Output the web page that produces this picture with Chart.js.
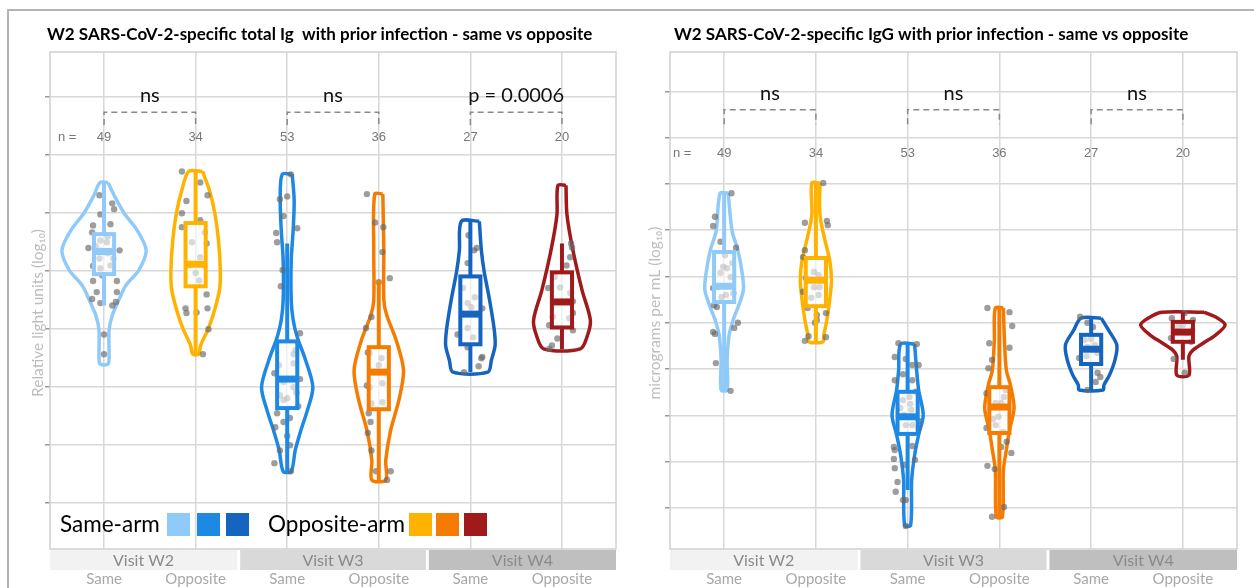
<!DOCTYPE html>
<html>
<head>
<meta charset="utf-8">
<script src="https://cdn.jsdelivr.net/npm/chart.js@4.4.1/dist/chart.umd.min.js"></script>
<style>
  html, body { margin: 0; padding: 0; background: #fff; }
  #wrap { position: relative; width: 1254px; height: 588px; overflow: hidden; }
  #frame { position: absolute; left: 7px; top: 9px; width: 1260px; height: 600px; border-left: 2px solid #b4b4b4; border-top: 2px solid #b4b4b4; }
  .panel { position: absolute; top: 0; width: 627px; height: 588px; }
</style>
</head>
<body>
<div id="wrap">
  <div id="frame"></div>
  <div class="panel" style="left:0"><canvas id="igChart" width="627" height="588"></canvas></div>
  <div class="panel" style="left:627px"><canvas id="iggChart" width="627" height="588"></canvas></div>
</div>
<script>
const categories = ['Same', 'Opposite', 'Same', 'Opposite', 'Same', 'Opposite'];
const visits = ['Visit W2', 'Visit W3', 'Visit W4'];
const groupCounts = [49, 34, 53, 36, 27, 20];
const seriesColors = ['#90CAF9', '#FFB300', '#1E88E5', '#F57C00', '#1565C0', '#A01A1C'];
const sameArmColors = ['#90CAF9', '#1E88E5', '#1565C0'];
const oppositeArmColors = ['#FFB300', '#F57C00', '#A01A1C'];

// total Ig, log10 units: [min, q1, median, q3, max]
const igBoxes = [
  [3.41, 3.95, 4.34, 4.64, 5.53],
  [2.57, 3.74, 4.12, 4.83, 5.72],
  [0.55, 1.64, 2.14, 2.79, 4.48],
  [0.40, 1.62, 2.26, 2.69, 3.84],
  [2.26, 2.74, 3.26, 3.91, 4.86],
  [2.66, 3.03, 3.47, 3.98, 4.48]
];
// violin profile: [value, half density width]
const igViolins = [
  [[5.53,0.044],[5.31,0.11],[5.00,0.22],[4.71,0.36],[4.36,0.46],[4.02,0.38],[3.76,0.24],[3.50,0.16],[3.24,0.09],[2.98,0.055],[2.55,0.055],[2.40,0.044]],
  [[5.72,0.076],[5.40,0.15],[5.00,0.21],[4.53,0.25],[4.00,0.27],[3.67,0.26],[3.24,0.19],[2.98,0.13],[2.72,0.055],[2.57,0.033]],
  [[5.67,0.055],[5.22,0.076],[4.71,0.065],[4.19,0.044],[3.50,0.044],[3.16,0.065],[2.86,0.11],[2.47,0.20],[2.00,0.28],[1.60,0.22],[1.26,0.15],[0.91,0.087],[0.55,0.044]],
  [[5.33,0.044],[4.36,0.055],[3.50,0.055],[3.24,0.087],[2.81,0.19],[2.29,0.27],[1.78,0.22],[1.26,0.13],[0.74,0.076],[0.40,0.076]],
  [[4.86,0.098],[4.36,0.12],[4.00,0.15],[3.50,0.21],[3.00,0.26],[2.72,0.27],[2.47,0.23],[2.26,0.19]],
  [[5.48,0.044],[4.97,0.055],[4.36,0.12],[3.67,0.22],[3.16,0.31],[2.90,0.28],[2.66,0.20]]
];
// individual samples: [jitter, value]
const igPoints = [
  [[-0.05,5.31],[0.09,5.17],[0.11,5.07],[-0.04,4.98],[0.07,4.81],[-0.12,4.79],[-0.13,4.67],[-0.04,4.53],[0.03,4.50],[-0.04,4.36],[0.04,4.31],[-0.05,4.22],[-0.12,4.09],[0.07,4.10],[-0.04,4.05],[-0.12,3.83],[0.14,3.83],[-0.08,3.64],[0.14,3.64],[-0.13,3.52],[-0.04,3.45],[0.09,3.41],[0.13,3.47],[0,2.91],[0,2.57],[0.04,4.60],[-0.09,4.43],[0.10,4.22],[-0.02,3.93],[-0.17,4.40],[0.17,4.36]],
  [[-0.15,5.72],[0.05,5.53],[0.13,5.31],[-0.10,5.21],[-0.15,5.00],[-0.15,4.76],[0.05,4.88],[0.10,4.67],[-0.04,4.50],[0.12,4.48],[0.05,4.24],[-0.07,4.10],[0.09,4.10],[0,3.97],[0.04,3.84],[0.12,3.60],[-0.11,3.36],[0.01,3.29],[0.13,3.36],[-0.10,3.28],[0.14,3.00],[0.08,2.57]],
  [[0.04,5.67],[-0.08,5.24],[0,5.29],[-0.04,4.95],[0.11,4.74],[-0.12,4.66],[-0.11,4.50],[-0.05,4.02],[-0.07,3.74],[0.14,2.93],[0.07,2.57],[0.07,2.41],[-0.14,2.24],[-0.04,2.09],[0.07,2.00],[0.14,2.14],[-0.08,1.86],[0.12,1.67],[-0.11,1.55],[0.03,1.47],[-0.04,1.40],[-0.13,1.31],[0,1.16],[0.03,1.00],[-0.08,0.91],[-0.14,0.69],[0.04,0.55],[0,1.81],[-0.04,1.78],[0.09,2.64],[-0.09,2.38],[0.10,1.91]],
  [[-0.13,5.33],[-0.04,4.84],[0.05,4.76],[0.04,4.33],[0.12,3.88],[0,3.81],[-0.08,3.21],[-0.14,3.02],[-0.12,2.60],[-0.10,2.59],[0,2.38],[0.07,2.26],[-0.13,2.03],[-0.10,2.00],[0.04,2.07],[-0.08,1.72],[-0.11,1.55],[-0.09,1.40],[-0.12,1.21],[-0.08,0.91],[-0.03,0.55],[0.13,0.55],[0.09,0.40],[0.04,1.74],[0.03,2.50]],
  [[-0.02,4.62],[0.07,4.40],[0.04,4.36],[-0.03,4.14],[-0.08,3.71],[0.05,3.55],[-0.03,3.45],[0.01,3.38],[0.13,3.36],[-0.14,2.91],[-0.03,3.02],[0.03,2.86],[-0.03,2.69],[0.13,2.52],[0.12,2.50],[0.09,2.36],[-0.07,2.26]],
  [[0.10,4.48],[0.11,4.41],[0.09,4.24],[0.05,4.10],[-0.08,3.90],[-0.02,3.72],[-0.15,3.71],[0.09,3.62],[0.12,3.48],[0.12,3.28],[-0.10,3.21],[0.08,3.19],[-0.14,3.07],[0.12,2.98],[-0.05,2.84],[-0.11,2.72],[-0.14,2.66]]
];
const igTests = ['ns', 'ns', 'p = 0.0006'];
const igTicks = [0, 1, 2, 3, 4, 5, 6, 7];

// IgG, log10 units
const iggBoxes = [
  [2.55, 4.45, 4.79, 5.53, 6.80],
  [3.59, 4.36, 4.92, 5.40, 7.02],
  [0.39, 1.60, 1.97, 2.51, 3.54],
  [-0.19, 1.62, 2.18, 2.61, 4.32],
  [2.55, 3.11, 3.43, 3.74, 4.10],
  [3.20, 3.59, 3.80, 4.02, 4.23]
];
const iggViolins = [
  [[6.80,0.044],[5.98,0.087],[5.57,0.15],[5.03,0.20],[4.71,0.21],[4.38,0.16],[4.06,0.098],[3.74,0.055],[3.20,0.033],[2.55,0.033]],
  [[7.02,0.044],[6.33,0.044],[5.79,0.098],[5.36,0.15],[4.92,0.17],[4.49,0.15],[4.06,0.12],[3.74,0.087],[3.59,0.076]],
  [[3.54,0.076],[2.98,0.098],[2.55,0.12],[2.01,0.17],[1.58,0.12],[1.14,0.076],[0.60,0.044],[-0.37,0.033]],
  [[4.32,0.044],[3.63,0.055],[2.98,0.076],[2.66,0.12],[2.16,0.16],[1.68,0.11],[1.25,0.076],[0.82,0.044],[-0.19,0.033]],
  [[4.10,0.11],[3.84,0.19],[3.52,0.28],[3.20,0.26],[2.87,0.20],[2.66,0.14],[2.55,0.13]],
  [[4.23,0.23],[4.10,0.38],[3.95,0.46],[3.74,0.36],[3.56,0.22],[3.41,0.11],[3.28,0.066],[2.87,0.066]]
];
const iggPoints = [
  [[0.08,6.80],[-0.10,6.29],[-0.12,6.09],[-0.04,5.75],[0.13,5.62],[0.01,5.46],[0.09,5.29],[-0.01,5.21],[0.03,5.18],[-0.04,5.08],[0.07,4.99],[-0.07,4.77],[-0.12,4.75],[0.02,4.60],[-0.03,4.56],[0.10,4.64],[-0.11,4.38],[-0.08,4.34],[0.15,4.00],[0.11,3.89],[-0.12,3.80],[-0.10,3.76],[-0.09,3.13],[0.07,2.53]],
  [[0.08,7.02],[0.12,6.20],[0.13,6.11],[-0.12,6.16],[-0.12,5.57],[-0.14,5.42],[-0.02,5.10],[0.03,5.03],[-0.11,4.97],[-0.02,4.77],[0.04,4.77],[-0.14,4.67],[0.03,4.60],[-0.05,4.54],[-0.09,4.32],[0.01,4.17],[0.11,4.21],[-0.01,4.00],[0.01,4.06],[-0.08,3.71],[0.11,3.69],[-0.12,3.61]],
  [[-0.10,3.56],[0.10,3.54],[-0.14,3.26],[-0.02,3.22],[0.05,3.09],[0.12,3.09],[-0.05,2.89],[-0.14,2.76],[0.05,2.76],[0.02,2.40],[-0.05,2.33],[0.04,2.12],[-0.08,2.16],[0.12,1.88],[-0.02,1.79],[0.05,1.79],[0.12,1.73],[-0.15,1.32],[-0.14,1.25],[0.05,1.34],[-0.15,1.06],[0.08,1.04],[-0.14,0.86],[-0.03,0.93],[-0.11,0.56],[-0.13,0.35],[-0.05,0.17],[-0.02,0.17],[-0.02,-0.39],[0.03,2.25],[-0.04,2.01],[0.09,2.51]],
  [[-0.13,4.32],[0.11,4.23],[0.14,3.93],[-0.11,3.56],[0.11,3.46],[-0.08,3.20],[-0.12,3.02],[0.07,2.55],[-0.14,2.48],[0.05,2.40],[-0.04,2.27],[0.02,2.27],[-0.07,1.92],[-0.01,1.97],[-0.04,1.79],[-0.14,1.73],[0.04,1.64],[0.02,1.32],[0.08,1.43],[0.13,1.19],[-0.13,0.91],[-0.05,0.84],[0.05,0.02],[-0.08,-0.19]],
  [[-0.12,4.13],[-0.04,4.00],[0.02,3.91],[-0.07,3.63],[0,3.65],[-0.04,3.48],[0.04,3.52],[0.07,3.35],[-0.05,3.28],[-0.13,3.24],[0.07,2.92],[0.10,2.83],[0.05,2.72],[-0.04,2.55]],
  [[-0.12,4.10],[0.02,4.21],[0.11,4.06],[0,3.95],[-0.05,3.91],[0.10,3.84],[0.04,3.78],[-0.13,3.67],[0.09,3.59],[-0.10,3.22],[0.02,2.92]]
];
const iggTests = ['ns', 'ns', 'ns'];
const iggTicks = [0, 1, 2, 3, 4, 5, 6, 7, 8, 9];

const BOX_HALF = 0.11;
const GRID = '#d8d8d8';
Chart.defaults.font.family = 'Lato, sans-serif';

function decor(cfg) {
    return {
        id: 'decor',
        beforeDatasetsDraw(chart) {
            const { ctx, chartArea: ca } = chart;
            ctx.save();
            ctx.strokeStyle = '#cfcfcf';
            ctx.lineWidth = 1.5;
            ctx.strokeRect(ca.left, ca.top, ca.right - ca.left, ca.bottom - ca.top);
            ctx.restore();
        },
        afterDatasetsDraw(chart) {
            const { ctx, scales: { x, y } } = chart;
            ctx.save();
            cfg.boxes.forEach(([lo, q1, med, q3, hi], i) => {
                const cx = x.getPixelForValue(i + 1);
                const hw = x.getPixelForValue(i + 1 + BOX_HALF) - cx;
                ctx.strokeStyle = seriesColors[i];
                ctx.lineWidth = 4;
                ctx.beginPath();
                ctx.moveTo(cx, y.getPixelForValue(hi)); ctx.lineTo(cx, y.getPixelForValue(q3));
                ctx.moveTo(cx, y.getPixelForValue(q1)); ctx.lineTo(cx, y.getPixelForValue(lo));
                ctx.stroke();
                const top = y.getPixelForValue(q3), bot = y.getPixelForValue(q1);
                ctx.fillStyle = 'rgba(255,255,255,0.6)';
                ctx.fillRect(cx - hw, top, hw * 2, bot - top);
                ctx.strokeRect(cx - hw, top, hw * 2, bot - top);
                ctx.lineWidth = 7;
                ctx.beginPath();
                const my = y.getPixelForValue(med);
                ctx.moveTo(cx - hw, my); ctx.lineTo(cx + hw, my);
                ctx.stroke();
            });
            ctx.restore();
        },
        afterDraw(chart) {
            const { ctx, chartArea: ca, scales: { x, y } } = chart;
            ctx.save();
            ctx.textBaseline = 'middle';

            ctx.fillStyle = '#000';
            ctx.textAlign = 'left';
            ctx.font = 'bold 17px Lato';
            ctx.fillText(cfg.title, 47, 35);

            // rotated value-axis title
            ctx.save();
            ctx.translate(cfg.yTitleX, cfg.yTitleY);
            ctx.rotate(-Math.PI / 2);
            ctx.textAlign = 'center';
            ctx.fillStyle = '#bdbdbd';
            ctx.font = '15.5px Lato';
            ctx.fillText(cfg.yTitle, 0, 0);
            ctx.restore();

            // n row
            const ny = y.getPixelForValue(cfg.nRowY);
            ctx.font = '13px "Liberation Sans"';
            ctx.fillStyle = '#777';
            ctx.fillText('n =', ca.left + cfg.nLeft, ny);
            ctx.textAlign = 'center';
            groupCounts.forEach((n, i) => ctx.fillText(String(n), x.getPixelForValue(i + 1), ny));

            // comparison brackets
            const by = y.getPixelForValue(cfg.bracketY);
            const bt = y.getPixelForValue(cfg.bracketTickY);
            const ty = y.getPixelForValue(cfg.testY);
            cfg.tests.forEach((t, k) => {
                const x1 = x.getPixelForValue(2 * k + 1), x2 = x.getPixelForValue(2 * k + 2);
                ctx.strokeStyle = '#8a8a8a';
                ctx.lineWidth = 1.5;
                ctx.setLineDash([6, 4]);
                ctx.beginPath();
                ctx.moveTo(x1, bt); ctx.lineTo(x1, by); ctx.lineTo(x2, by); ctx.lineTo(x2, bt);
                ctx.stroke();
                ctx.setLineDash([]);
                ctx.fillStyle = '#111';
                ctx.font = '20px Lato';
                ctx.fillText(t, (x1 + x2) / 2, ty);
            });

            // visit bands and arm labels
            const third = (ca.right - ca.left) / 3;
            const bandFill = ['#f2f2f2', '#d9d9d9', '#bfbfbf'];
            visits.forEach((v, k) => {
                const l = ca.left + third * k + (k ? 1.5 : 0);
                const r = ca.left + third * (k + 1) - (k < 2 ? 1.5 : 0);
                ctx.fillStyle = bandFill[k];
                ctx.fillRect(l, ca.bottom + 1, r - l, 20);
                ctx.fillStyle = '#8a8a8a';
                ctx.font = '16px Lato';
                ctx.fillText(v, (l + r) / 2, ca.bottom + 11.5);
            });
            ctx.fillStyle = '#a8a8a8';
            ctx.font = '15px Lato';
            categories.forEach((c, i) => ctx.fillText(c, x.getPixelForValue(i + 1), ca.bottom + 30));

            if (cfg.legend) {
                const ly = ca.bottom - 24;
                ctx.textAlign = 'left';
                ctx.fillStyle = '#000';
                ctx.font = '22.5px Lato';
                ctx.fillText('Same-arm', ca.left + 10, ly);
                ctx.fillText('Opposite-arm', ca.left + 218, ly);
                [117, 147, 176].forEach((o, j) => { ctx.fillStyle = sameArmColors[j]; ctx.fillRect(ca.left + o, ly - 12, 23, 23); });
                [359, 386, 414].forEach((o, j) => { ctx.fillStyle = oppositeArmColors[j]; ctx.fillRect(ca.left + o, ly - 12, 23, 23); });
            }
            ctx.restore();
        }
    };
}

function makePanel(id, cfg) {
    const dots = [];
    cfg.points.forEach((grp, i) => grp.forEach(([dx, v]) => dots.push({ x: i + 1 + dx, y: v })));
    const datasets = [{
        data: dots, pointRadius: 3.2, pointBackgroundColor: 'rgba(105,105,105,0.65)', pointBorderWidth: 0, showLine: false
    }];
    cfg.violins.forEach((prof, i) => {
        const cx = i + 1;
        const right = prof.map(([v, w]) => ({ x: cx + w, y: v }));
        const left = prof.slice().reverse().map(([v, w]) => ({ x: cx - w, y: v }));
        datasets.push({
            data: right.concat(left, [right[0]]), showLine: true, fill: false,
            borderColor: seriesColors[i], borderWidth: 3.5, pointRadius: 0, tension: 0.3
        });
    });

    return new Chart(document.getElementById(id), {
        type: 'scatter',
        data: { datasets },
        options: {
            responsive: false, animation: false,
            layout: { padding: { left: cfg.padLeft, right: cfg.padRight, top: 52, bottom: 39 } },
            plugins: { legend: { display: false }, tooltip: { enabled: false } },
            scales: {
                x: {
                    type: 'linear', min: 0.41, max: 6.59,
                    afterBuildTicks: axis => { axis.ticks = [1, 2, 3, 4, 5, 6].map(v => ({ value: v })); },
                    ticks: { display: false },
                    grid: { color: GRID, lineWidth: 1.5, drawTicks: false },
                    border: { display: false }
                },
                y: {
                    type: 'linear', min: cfg.yMin, max: cfg.yMax,
                    afterBuildTicks: axis => { axis.ticks = cfg.yTicks.map(v => ({ value: v })); },
                    afterFit: axis => { axis.width = cfg.axisWidth; },
                    ticks: { callback: () => '', padding: 0 },
                    grid: { color: GRID, lineWidth: 1.5, tickLength: 5, tickColor: '#999' },
                    border: { display: false },
                    title: { display: false }
                }
            }
        },
        plugins: [decor(cfg)]
    });
}

makePanel('igChart', {
    title: 'W2 SARS-CoV-2-specific total Ig  with prior infection - same vs opposite',
    yTitle: 'Relative light units (log\u2081\u2080)', yTitleX: 38, yTitleY: 313,
    boxes: igBoxes, violins: igViolins, points: igPoints, tests: igTests, yTicks: igTicks,
    yMin: -0.79, yMax: 7.78, padLeft: 28, padRight: 11, axisWidth: 22,
    nRowY: 6.31, nLeft: 8, bracketY: 6.74, bracketTickY: 6.52, testY: 7.03, legend: true
});

makePanel('iggChart', {
    title: 'W2 SARS-CoV-2-specific IgG with prior infection - same vs opposite',
    yTitle: 'micrograms per mL (log\u2081\u2080)', yTitleX: 28, yTitleY: 313,
    boxes: iggBoxes, violins: iggViolins, points: iggPoints, tests: iggTests, yTicks: iggTicks,
    yMin: -0.886, yMax: 9.85, padLeft: 18, padRight: 17, axisWidth: 25,
    nRowY: 7.65, nLeft: 3, bracketY: 8.60, bracketTickY: 8.29, testY: 8.96, legend: false
});
</script>
</body>
</html>
